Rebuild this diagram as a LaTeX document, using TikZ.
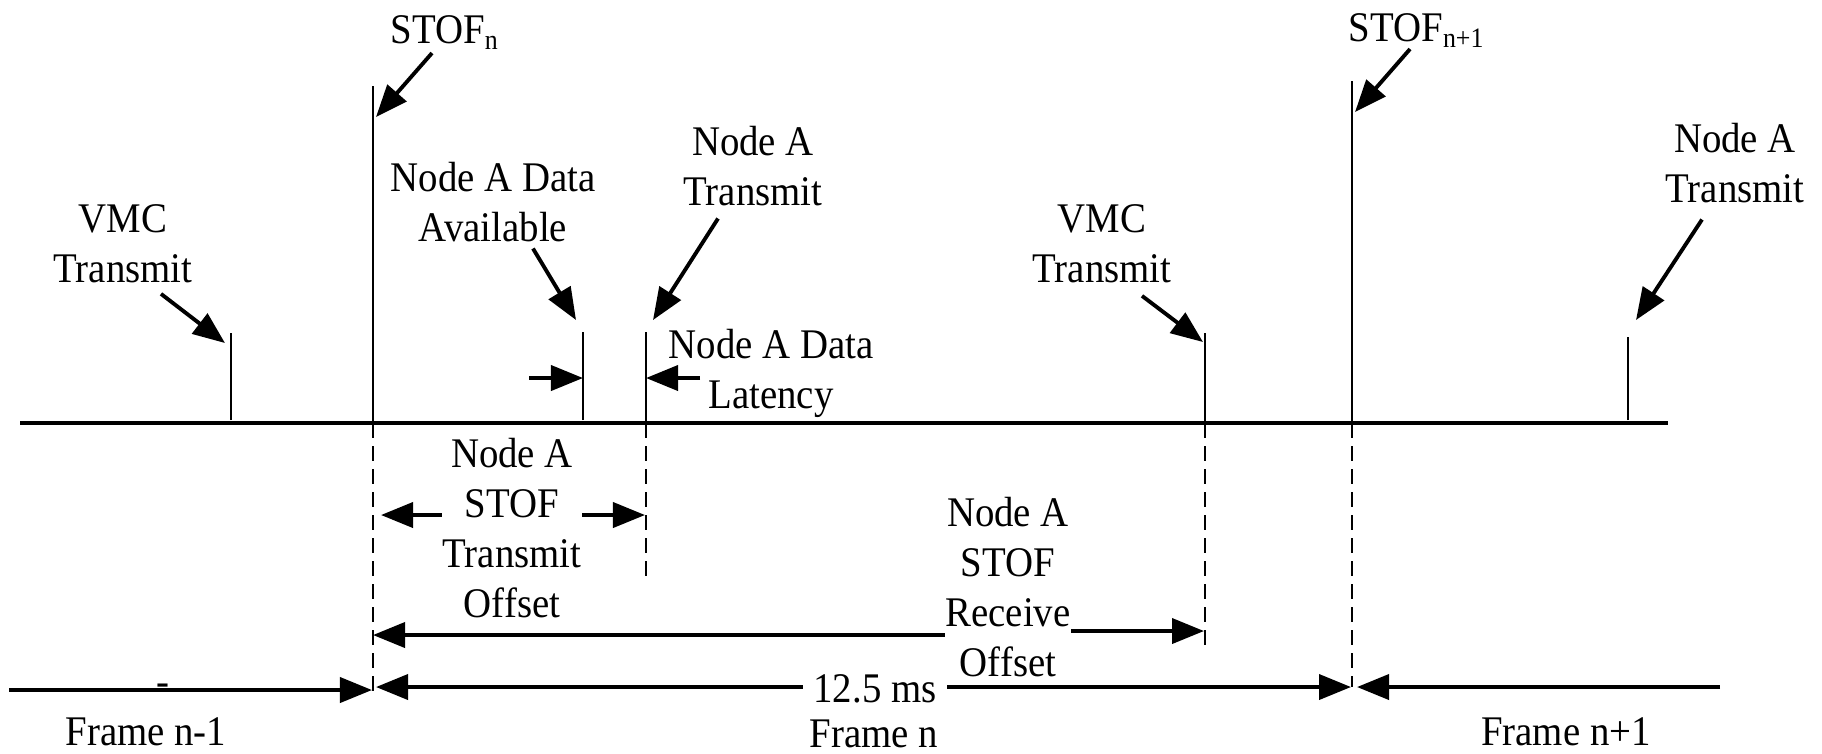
\documentclass[tikz,border=0pt]{standalone}
\usepackage{fontspec}
\setmainfont[FakeStretch=0.92]{Liberation Serif}
\usetikzlibrary{arrows.meta}
\tikzset{
  lbl/.style={font=\rmfamily\fontsize{12pt}{14.2pt}\selectfont, align=center, inner sep=0pt},
  ptr/.style={-{Triangle[length=0.32cm,width=0.25cm]}, line width=1.1pt},
  axisline/.style={line width=1pt},
  tickline/.style={line width=0.7pt},
  guide/.style={line width=0.7pt, dash pattern=on 0.15cm off 0.08cm},
}
\begin{document}
\begin{tikzpicture}[x=0.01cm, y=-0.01cm]
  \useasboundingbox (0,0) rectangle (1822,753);
  \coordinate (axL) at (20,423); \coordinate (axR) at (1668,423);
  \coordinate (sn) at (373,423); \coordinate (snn) at (1352,423);
  \coordinate (vmcA) at (231,423); \coordinate (dav) at (583,423);
  \coordinate (natx) at (646,423); \coordinate (vmcB) at (1205,423);
  \coordinate (natxB) at (1628,423);
  \draw[axisline] (axL) -- (axR);
  \draw[tickline] (sn) -- ++(0,-337);
  \draw[tickline] (snn) -- ++(0,-342);
  \draw[tickline] (vmcA) ++(0,-3) -- ++(0,-87);
  \draw[tickline] (dav) ++(0,-3) -- ++(0,-88);
  \draw[tickline] (natx) -- ++(0,-91);
  \draw[tickline] (vmcB) -- ++(0,-90);
  \draw[tickline] (natxB) ++(0,-3) -- ++(0,-83);
  \draw[guide] (sn) -- ++(0,270);
  \draw[guide] (snn) -- ++(0,264);
  \draw[guide] (natx) -- ++(0,154);
  \draw[guide] (vmcB) -- ++(0,229);

  \node[lbl, anchor=base] (stofn) at (445,43) {STOF\textsubscript{n}};
  \node[lbl, anchor=base] (stofnn) at (1417,41) {STOF\textsubscript{n+1}};
  \node[lbl] (vmcAl) at (123,244) {VMC\\Transmit};
  \node[lbl] (davl) at (493,202) {Node A Data\\Available};
  \node[lbl] (natxl) at (753,166) {Node A\\Transmit};
  \node[lbl] (latl) at (771,373) {Node A Data\\Latency};
  \node[lbl] (vmcBl) at (1102,244) {VMC\\Transmit};
  \node[lbl] (natxBl) at (1735,163) {Node A\\Transmit};
  \node[lbl] (txoff) at (512,528) {Node A\\STOF\\Transmit\\Offset};
  \node[lbl] (rxoff) at (1008,587) {Node A\\STOF\\Receive\\Offset};
  \node[lbl, anchor=base, inner xsep=0.1cm] (frm) at (875,702) {12.5 ms};
  \node[lbl, anchor=base] (frmn) at (874,747) {Frame n};
  \node[lbl, anchor=base] (frmp) at (146,745) {Frame n-1};
  \node[lbl, anchor=base] (frmq) at (1566,745) {Frame n+1};
  \node[lbl, anchor=base] (hy) at (163,695) {-};

  \coordinate (snP) at (376,117); \coordinate (snnP) at (1355,112);
  \coordinate (vmcAP) at (225,343); \coordinate (davP) at (576,320);
  \coordinate (natxP) at (653,320); \coordinate (vmcBP) at (1203,342);
  \coordinate (natxBP) at (1636,320);
  \draw[ptr] ([shift={(-13,3)}]stofn.south) -- (snP);
  \draw[ptr] ([shift={(-7,1)}]stofnn.south) -- (snnP);
  \draw[ptr] ([shift={(38,10)}]vmcAl.south) -- (vmcAP);
  \draw[ptr] ([shift={(40,6)}]davl.south) -- (davP);
  \draw[ptr] ([shift={(-35,12)}]natxl.south) -- (natxP);
  \draw[ptr] ([shift={(40,12)}]vmcBl.south) -- (vmcBP);
  \draw[ptr] ([shift={(-33,16)}]natxBl.south) -- (natxBP);

  \coordinate (latL) at (529,378); \coordinate (latR) at (700,378);
  \draw[ptr] (latL) -- (dav |- latL);
  \draw[ptr] (latR) -- (natx |- latR);

  \coordinate (txL) at (381,515); \coordinate (txR) at (645,515);
  \draw[ptr] (txoff.west |- txL) -- (txL);
  \draw[ptr] (txoff.east |- txR) -- (txR);
  \coordinate (rxL) at (373,635); \coordinate (rxR) at (1204,631);
  \draw[ptr] (rxoff.west |- rxL) -- (rxL);
  \draw[ptr] (rxoff.east |- rxR) -- (rxR);

  \coordinate (fL) at (376,687); \coordinate (fR) at (1351,687);
  \draw[ptr] (frm.west |- fL) -- (fL);
  \draw[ptr] (frm.east |- fR) -- (fR);
  \coordinate (pL) at (9,690); \coordinate (pR) at (372,690);
  \draw[ptr] (pL) -- (pR);
  \coordinate (qR) at (1720,687); \coordinate (qL) at (1357,687);
  \draw[ptr] (qR) -- (qL);
\end{tikzpicture}
\end{document}
